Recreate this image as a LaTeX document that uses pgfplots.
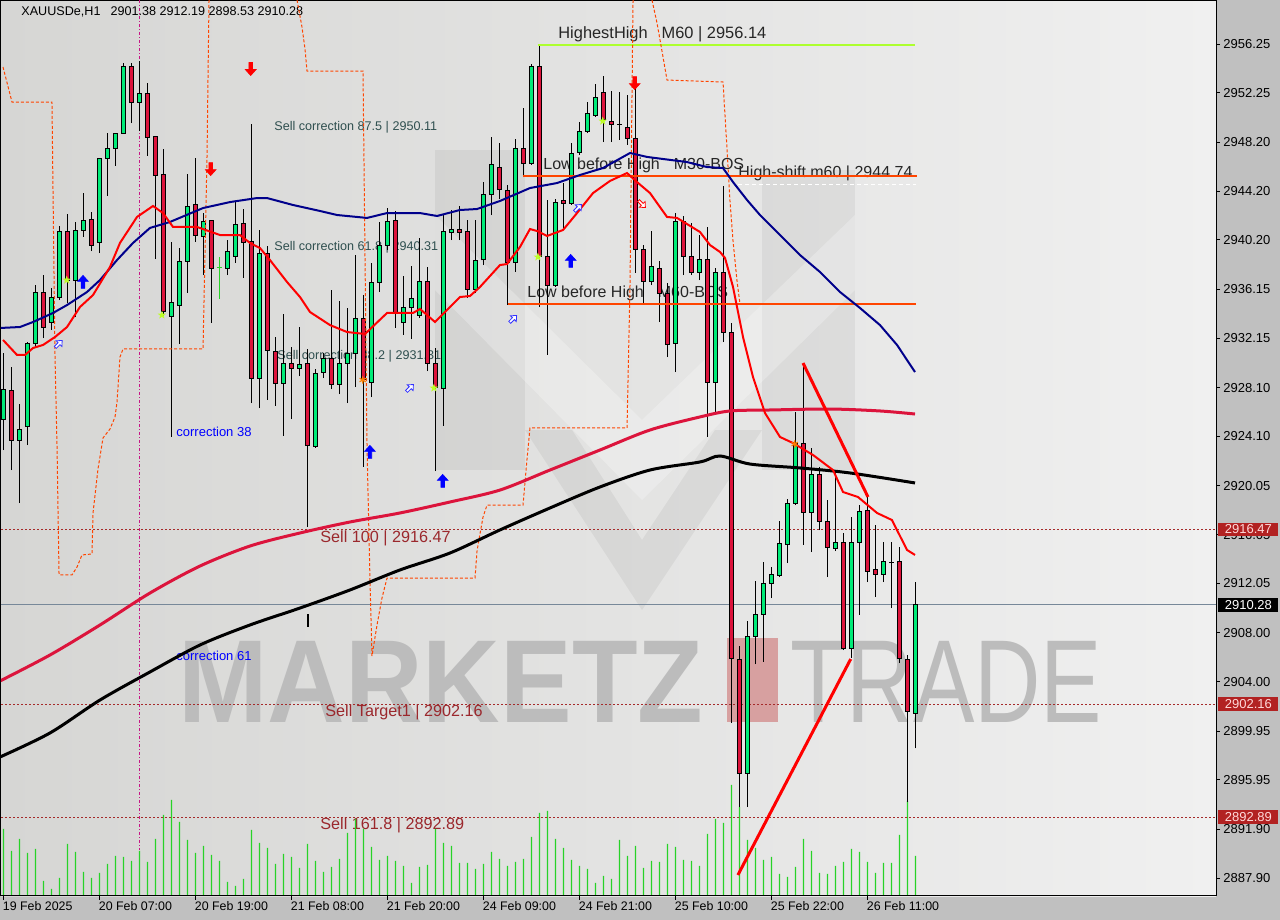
\documentclass[border=0pt]{standalone}
\usepackage{fontspec}
\setmainfont{Liberation Sans}
\usepackage{pgfplots}
\usepackage{pgfplotstable}
\pgfplotsset{compat=1.18}

\definecolor{bull}{RGB}{0,235,120}
\definecolor{bear}{RGB}{220,20,60}
\definecolor{panel}{RGB}{192,192,192}
\definecolor{bgl}{RGB}{214,214,212}
\definecolor{bgr}{RGB}{240,240,240}
\definecolor{ored}{RGB}{255,69,0}
\definecolor{lvl}{RGB}{165,42,42}
\definecolor{lvltext}{RGB}{155,40,45}
\definecolor{boxred}{RGB}{178,34,34}
\definecolor{ygreen}{RGB}{173,255,47}
\definecolor{magline}{RGB}{199,21,133}
\definecolor{navyma}{RGB}{0,0,139}
\definecolor{crim}{RGB}{220,20,60}
\definecolor{slate}{RGB}{47,79,79}
\definecolor{volg}{RGB}{40,210,40}
\definecolor{wm}{RGB}{188,188,188}
\definecolor{wmpink}{RGB}{215,160,160}
\definecolor{bidline}{RGB}{119,136,153}

% filled arrow, pointing up
\pgfdeclareplotmark{arr}{%
  \pgfpathmoveto{\pgfqpoint{0pt}{3.3pt}}%
  \pgfpathlineto{\pgfqpoint{2.7pt}{0.3pt}}%
  \pgfpathlineto{\pgfqpoint{0.9pt}{0.3pt}}%
  \pgfpathlineto{\pgfqpoint{0.9pt}{-3.2pt}}%
  \pgfpathlineto{\pgfqpoint{-0.9pt}{-3.2pt}}%
  \pgfpathlineto{\pgfqpoint{-0.9pt}{0.3pt}}%
  \pgfpathlineto{\pgfqpoint{-2.7pt}{0.3pt}}%
  \pgfpathclose\pgfusepathqfillstroke}
% filled five point star
\pgfdeclareplotmark{fstar}{%
  \pgfpathmoveto{\pgfpointpolar{90}{2.2pt}}%
  \pgfpathlineto{\pgfpointpolar{126}{0.9pt}}%
  \pgfpathlineto{\pgfpointpolar{162}{2.2pt}}%
  \pgfpathlineto{\pgfpointpolar{198}{0.9pt}}%
  \pgfpathlineto{\pgfpointpolar{234}{2.2pt}}%
  \pgfpathlineto{\pgfpointpolar{270}{0.9pt}}%
  \pgfpathlineto{\pgfpointpolar{306}{2.2pt}}%
  \pgfpathlineto{\pgfpointpolar{342}{0.9pt}}%
  \pgfpathlineto{\pgfpointpolar{18}{2.2pt}}%
  \pgfpathlineto{\pgfpointpolar{54}{0.9pt}}%
  \pgfpathclose\pgfusepathqfill}

\pgfplotsset{
  box/.style={scale only axis, width=607.5pt, height=447.5pt,
    at={(0.5pt,12pt)}, anchor=south west},
  pix/.style={box, xmin=1, xmax=1216, ymin=1, ymax=896, y dir=reverse,
    hide axis, clip=false},
  wick/.style={black, line width=0.5pt},
  bullbody/.style={fill=bull, draw=black, line width=0.5pt},
  bearbody/.style={fill=bear, draw=black, line width=0.5pt},
  lvlline/.style={lvl, line width=0.5pt, dash pattern=on 1pt off 1pt},
  zz/.style={ored, line width=0.5pt, dash pattern=on 1.5pt off 1pt},
}

% bar, open, high, low, close (H1)
\pgfplotstableread{
i o h l c
0 2925.52 2930.93 2922.98 2927.98
1 2927.82 2929.78 2921.34 2923.80
2 2923.80 2926.75 2918.63 2924.70
3 2924.87 2931.80 2923.39 2931.75
4 2931.75 2936.50 2931.34 2935.85
5 2935.85 2937.32 2932.16 2932.98
6 2933.39 2936.26 2932.82 2935.44
7 2935.44 2941.34 2935.27 2940.85
8 2940.85 2942.32 2935.03 2936.91
9 2936.91 2941.67 2933.88 2940.93
10 2941.01 2944.04 2940.44 2941.83
11 2941.91 2942.49 2939.29 2939.78
12 2939.95 2946.90 2939.12 2946.83
13 2946.83 2948.96 2943.80 2947.73
14 2947.73 2949.00 2946.26 2948.96
15 2948.96 2954.70 2948.90 2954.45
16 2954.45 2954.70 2949.78 2951.50
17 2951.42 2954.86 2949.12 2952.16
18 2952.16 2953.06 2947.08 2948.63
19 2948.71 2948.75 2938.63 2945.44
20 2945.60 2947.65 2933.88 2934.37
21 2933.96 2940.03 2924.05 2935.03
22 2934.86 2939.53 2931.67 2938.47
23 2938.47 2945.60 2935.85 2942.90
24 2943.06 2946.91 2940.03 2940.52
25 2940.44 2942.40 2937.32 2941.67
26 2941.75 2941.83 2933.39 2937.89
27 2937.90 2938.80 2935.36 2937.90
28 2937.89 2940.19 2937.32 2939.21
29 2938.80 2943.30 2938.31 2941.50
30 2941.58 2942.73 2937.08 2939.95
31 2940.03 2949.70 2926.83 2928.88
32 2928.80 2941.01 2926.42 2939.12
33 2939.12 2939.70 2927.08 2931.17
34 2931.09 2932.24 2926.59 2928.47
35 2928.47 2934.13 2924.13 2930.11
36 2930.11 2931.42 2925.52 2929.70
37 2929.70 2933.06 2929.04 2929.95
38 2930.03 2931.26 2916.67 2923.31
39 2923.23 2929.62 2923.15 2929.29
40 2929.37 2930.93 2928.88 2930.52
41 2930.52 2936.09 2927.98 2928.39
42 2928.39 2935.19 2927.57 2930.03
43 2930.11 2934.62 2926.83 2930.93
44 2930.93 2938.96 2928.14 2933.72
45 2933.72 2935.68 2921.59 2928.72
46 2928.55 2938.31 2927.32 2936.67
47 2936.67 2941.67 2935.93 2939.70
48 2939.70 2942.81 2939.37 2941.67
49 2941.75 2942.57 2932.98 2934.21
50 2933.47 2937.24 2932.41 2934.70
51 2934.70 2938.06 2932.08 2935.36
52 2934.04 2940.36 2933.80 2936.83
53 2936.83 2937.98 2929.45 2930.03
54 2930.11 2931.34 2921.26 2928.14
55 2928.06 2942.24 2924.95 2940.85
56 2940.77 2942.65 2940.19 2941.09
57 2941.09 2942.98 2940.19 2940.77
58 2940.85 2941.83 2935.44 2936.17
59 2936.17 2941.83 2935.85 2938.55
60 2938.63 2944.94 2938.14 2943.88
61 2943.88 2948.63 2942.24 2946.34
62 2946.17 2948.14 2943.55 2944.29
63 2944.21 2944.70 2934.86 2938.31
64 2938.31 2948.47 2937.57 2947.73
65 2947.73 2951.01 2945.35 2946.50
66 2946.50 2954.61 2946.34 2954.45
67 2954.37 2956.14 2934.70 2938.80
68 2938.80 2943.47 2930.77 2936.50
69 2936.50 2943.55 2936.34 2943.30
70 2943.39 2944.86 2941.01 2943.22
71 2943.22 2948.14 2943.06 2947.32
72 2947.40 2949.86 2947.16 2949.12
73 2949.12 2951.50 2948.96 2950.52
74 2950.43 2952.98 2950.27 2951.83
75 2952.32 2953.63 2948.22 2950.03
76 2949.94 2952.40 2948.22 2949.62
77 2949.62 2952.32 2948.40 2949.62
78 2949.45 2952.07 2947.98 2948.55
79 2948.55 2953.06 2937.49 2939.45
80 2939.45 2939.78 2935.03 2936.83
81 2936.75 2940.93 2936.50 2937.98
82 2937.89 2938.47 2933.47 2935.77
83 2935.77 2936.67 2930.60 2931.59
84 2931.67 2942.40 2929.37 2941.67
85 2941.67 2942.16 2937.32 2938.88
86 2938.80 2941.58 2937.32 2937.49
87 2937.49 2940.60 2936.91 2938.63
88 2938.63 2941.26 2924.05 2928.55
89 2928.55 2937.89 2926.10 2937.49
90 2937.49 2944.62 2931.83 2932.57
91 2932.57 2933.39 2900.61 2905.93
92 2905.85 2906.92 2893.72 2896.43
93 2896.43 2908.97 2893.72 2907.66
94 2907.66 2912.25 2905.44 2909.54
95 2909.46 2913.80 2905.61 2912.08
96 2912.08 2913.39 2910.85 2912.74
97 2912.66 2917.16 2912.57 2915.28
98 2915.20 2918.97 2913.72 2918.56
99 2918.56 2926.10 2918.47 2923.55
100 2923.55 2930.11 2915.20 2917.90
101 2917.90 2923.15 2914.62 2921.01
102 2921.01 2921.59 2916.42 2917.16
103 2917.16 2918.88 2912.57 2914.95
104 2914.87 2921.18 2914.70 2915.44
105 2915.36 2916.18 2906.59 2906.75
106 2906.75 2917.49 2905.93 2915.44
107 2915.44 2918.47 2909.46 2917.98
108 2918.06 2919.13 2912.16 2913.06
109 2913.15 2916.83 2910.93 2912.74
110 2912.74 2915.44 2912.16 2913.88
111 2913.80 2915.44 2910.03 2913.80
112 2913.88 2915.03 2905.52 2905.93
113 2905.85 2906.18 2894.13 2901.59
114 2901.38 2912.19 2898.53 2910.28
}\candles

% tick volume, in pixel height of the bar
\pgfplotstableread{
i v
0 67
1 45
2 57
3 43
4 47
5 15
6 7
7 18
8 52
9 44
10 24
11 18
12 23
13 32
14 40
15 39
16 35
17 45
18 34
19 57
20 81
21 96
22 74
23 56
24 43
25 50
26 41
27 35
28 14
29 10
30 17
31 66
32 53
33 48
34 32
35 42
36 39
37 28
38 52
39 35
40 24
41 29
42 37
43 63
44 77
45 67
46 49
47 36
48 40
49 35
50 30
51 13
52 29
53 31
54 67
55 53
56 50
57 33
58 33
59 27
60 32
61 44
62 37
63 30
64 34
65 37
66 59
67 83
68 85
69 57
70 48
71 36
72 30
73 27
74 13
75 20
76 17
77 56
78 40
79 50
80 28
81 35
82 34
83 52
84 49
85 36
86 35
87 30
88 62
89 77
90 73
91 111
92 89
93 56
94 48
95 36
96 39
97 22
98 19
99 29
100 57
101 45
102 23
103 22
104 30
105 34
106 47
107 44
108 34
109 23
110 33
111 33
112 61
113 95
114 40
}\vols

\begin{document}
\begin{tikzpicture}
\fill[panel] (0,0) rectangle (640pt,460pt);

% background, watermark and text objects (pixel grid of the chart window)
\begin{axis}[pix]
\shade[left color=bgl, right color=bgr] (axis cs:1,1) rectangle (axis cs:1216,896);
\fill[black, opacity=0.05] (axis cs:435,150) rectangle (axis cs:525,470);
\fill[black, opacity=0.05] (axis cs:762,170) rectangle (axis cs:855,470);
\fill[black, opacity=0.05] (axis cs:525,430) -- (axis cs:642,610) -- (axis cs:762,430)
  -- (axis cs:715,430) -- (axis cs:642,540) -- (axis cs:572,430) -- cycle;
\fill[white, opacity=0.25] (axis cs:435,215) -- (axis cs:642,420) -- (axis cs:855,215)
  -- (axis cs:855,290) -- (axis cs:642,500) -- (axis cs:435,290) -- cycle;
\node[anchor=base west, inner sep=0, text=wm,
  font=\fontsize{59}{60}\selectfont\bfseries] at (axis cs:178,722) {\scalebox{0.91}[1]{MARKETZ}};
\fill[wmpink] (axis cs:727,638) rectangle (axis cs:778,722);
\node[anchor=base west, inner sep=0, text=wm,
  font=\fontsize{59}{60}\selectfont] at (axis cs:790,722) {\scalebox{0.78}[1]{TRADE}};

\node[anchor=west, inner sep=0, font=\fontsize{6.3}{7}\selectfont] at (axis cs:21,12)
  {XAUUSDe,H1\hspace{5pt}2901.38 2912.19 2898.53 2910.28};
\node[anchor=west, inner sep=0, text=black!85, font=\fontsize{8.2}{9}\selectfont] at (axis cs:558,34)
  {HighestHigh\hspace{7pt}M60 | 2956.14};
\node[anchor=west, inner sep=0, text=black!85, font=\fontsize{8}{9}\selectfont] at (axis cs:543,165)
  {Low before High\hspace{7pt}M30-BOS};
\node[anchor=west, inner sep=0, text=black!85, font=\fontsize{8}{9}\selectfont] at (axis cs:738,173)
  {High-shift m60 | 2944.74};
\node[anchor=west, inner sep=0, text=black!85, font=\fontsize{8}{9}\selectfont] at (axis cs:527,293)
  {Low before High\hspace{7pt}M60-BOS};
\node[anchor=west, inner sep=0, text=slate, font=\fontsize{6.3}{7}\selectfont] at (axis cs:274,127)
  {Sell correction 87.5 | 2950.11};
\node[anchor=west, inner sep=0, text=slate, font=\fontsize{6.3}{7}\selectfont] at (axis cs:274,247)
  {Sell correction 61.8 | 2940.31};
\node[anchor=west, inner sep=0, text=slate, font=\fontsize{6.3}{7}\selectfont] at (axis cs:277,356)
  {Sell correction 38.2 | 2931.31};
\node[anchor=west, inner sep=0, text=blue, font=\fontsize{6.5}{7}\selectfont] at (axis cs:176,432)
  {correction 38};
\node[anchor=west, inner sep=0, text=blue, font=\fontsize{6.5}{7}\selectfont] at (axis cs:176,656)
  {correction 61};
\node[anchor=west, inner sep=0, text=lvltext, font=\fontsize{8.1}{9}\selectfont] at (axis cs:320,538)
  {Sell 100 | 2916.47};
\node[anchor=west, inner sep=0, text=lvltext, font=\fontsize{8.1}{9}\selectfont] at (axis cs:325,712)
  {Sell Target1 | 2902.16};
\node[anchor=west, inner sep=0, text=lvltext, font=\fontsize{8.1}{9}\selectfont] at (axis cs:320,825)
  {Sell 161.8 | 2892.89};
\end{axis}

% tick volume
\begin{axis}[box, hide axis, xmin=-0.3125, xmax=151.5625, ymin=0, ymax=895]
\addplot[ybar, bar width=0.6pt, fill=volg, draw=none] table[x=i, y=v] {\vols};
\end{axis}

% price chart
\begin{axis}[box,
  xmin=-0.3125, xmax=151.5625, ymin=2886.43, ymax=2959.78,
  clip mode=individual,
  axis line style={black, line width=0.5pt},
  tick style={black, line width=0.5pt},
  tick align=outside, major tick length=2pt,
  xtick pos=left, ytick pos=right, yticklabel pos=right,
  xtick={0,12,24,36,48,60,72,84,96,108},
  xticklabels={19 Feb 2025,20 Feb 07:00,20 Feb 19:00,21 Feb 08:00,21 Feb 20:00,24 Feb 09:00,24 Feb 21:00,25 Feb 10:00,25 Feb 22:00,26 Feb 11:00},
  xticklabel style={anchor=north west, inner sep=0.5pt, xshift=-1pt, font=\fontsize{6.2}{7}\selectfont},
  ytick={2887.90,2891.90,2895.95,2899.95,2904.00,2908.00,2912.05,2916.05,2920.05,2924.10,2928.10,2932.15,2936.15,2940.20,2944.20,2948.20,2952.25,2956.25},
  yticklabels={2887.90,2891.90,2895.95,2899.95,2904.00,2908.00,2912.05,2916.05,2920.05,2924.10,2928.10,2932.15,2936.15,2940.20,2944.20,2948.20,2952.25,2956.25},
  yticklabel style={anchor=west, inner sep=0pt, xshift=1.5pt, font=\fontsize{6.5}{7}\selectfont},
]
% price levels
\addplot[lvlline] coordinates {(-0.3125,2916.47) (151.5625,2916.47)};
\addplot[lvlline] coordinates {(-0.3125,2902.16) (151.5625,2902.16)};
\addplot[lvlline] coordinates {(-0.3125,2892.89) (151.5625,2892.89)};
\addplot[bidline, line width=0.5pt] coordinates {(-0.3125,2910.28) (151.5625,2910.28)};
\addplot[magline, line width=0.5pt, dash pattern=on 1.5pt off 1pt on 0.5pt off 1pt]
  coordinates {(17,2959.86) (17,2890.2)};

% candles
\pgfplotsforeachungrouped \k in {0,...,114}{%
  \pgfplotstablegetelem{\k}{o}\of\candles \let\vo\pgfplotsretval
  \pgfplotstablegetelem{\k}{h}\of\candles \let\vh\pgfplotsretval
  \pgfplotstablegetelem{\k}{l}\of\candles \let\vl\pgfplotsretval
  \pgfplotstablegetelem{\k}{c}\of\candles \let\vc\pgfplotsretval
  \pgfmathsetmacro\xa{\k-0.3}%
  \pgfmathsetmacro\xb{\k+0.3}%
  \ifdim\vc pt<\vo pt\def\bodystyle{bearbody}\else\def\bodystyle{bullbody}\fi
  \edef\candlecmd{%
    \noexpand\addplot[wick] coordinates {(\k,\vl) (\k,\vh)};%
    \noexpand\addplot[\bodystyle] coordinates {(\xa,\vo) (\xb,\vo) (\xb,\vc) (\xa,\vc) (\xa,\vo)};%
  }\candlecmd
}
\addplot[volg, line width=0.5pt] coordinates {(27,2935.36) (27,2938.80)};
\addplot[volg, line width=0.5pt] coordinates {(26.7,2937.90) (27.3,2937.90)};
\addplot[black, line width=1pt] coordinates {(38.06,2909.54) (38.06,2908.48)};

% structure levels
\addplot[ygreen, line width=1pt] coordinates {(66.8,2956.14) (113.9,2956.14)};
\addplot[ored, line width=1pt] coordinates {(64.9,2945.40) (114.2,2945.40)};
\addplot[ored, line width=1pt] coordinates {(63.0,2934.93) (114.1,2934.93)};
\addplot[white, line width=0.5pt, dash pattern=on 2pt off 1.5pt] coordinates {(91.8,2944.74) (114.1,2944.74)};

% zigzag envelope (dashed)
\addplot[zz] coordinates {(-0.06,2954.37) (1.06,2951.50) (6.06,2951.50) (6.19,2944.12) (6.44,2930.60)
  (6.69,2923.31) (6.94,2912.82) (7.06,2912.74) (8.56,2912.74) (9.19,2913.39) (9.81,2914.38)
  (11.06,2914.46) (11.19,2917.82) (11.81,2921.42) (12.44,2923.97) (13.31,2924.70) (13.94,2925.69)
  (14.19,2926.92) (14.56,2930.60) (14.94,2931.26) (24.94,2931.26) (25.44,2947.08) (25.69,2959.86)};
\addplot[zz] coordinates {(36.69,2959.86) (37.31,2957.65) (37.69,2955.84) (37.94,2954.04) (44.94,2954.04)
  (45.44,2923.31) (45.56,2919.62) (45.81,2912.33) (46.06,2906.10) (46.69,2908.64) (47.31,2910.85)
  (47.94,2912.49) (58.94,2912.49) (59.19,2914.70) (59.56,2916.10) (59.94,2917.49) (60.44,2918.47)
  (64.94,2918.47) (65.44,2922.24) (65.81,2924.79) (77.94,2924.79) (78.31,2936.34) (78.69,2959.86)};
\addplot[zz] coordinates {(81.06,2959.86) (81.69,2957.97) (82.44,2955.19) (82.94,2953.30) (89.94,2953.14)
  (90.44,2947.65) (90.81,2943.39) (91.19,2940.11) (91.69,2936.83) (92.06,2934.95)};

% moving averages
\addplot[crim, line width=1.5pt, smooth, tension=0.5] coordinates {(-0.44,2904.05) (5.81,2906.18) (12.06,2908.64) (18.31,2911.26)
  (24.56,2913.47) (30.81,2915.11) (37.06,2916.18) (43.31,2917.08) (49.56,2917.82) (55.81,2918.72)
  (62.06,2919.70) (68.31,2921.34) (74.56,2922.98) (80.81,2924.62) (87.06,2925.69) (90.81,2926.18)
  (95.81,2926.26) (103.31,2926.34) (109.56,2926.18) (113.94,2925.93)};
\addplot[black, line width=1.5pt, smooth, tension=0.5] coordinates {(-0.44,2897.82) (5.81,2899.79) (12.06,2902.49) (18.31,2904.79)
  (24.56,2907.00) (30.81,2908.64) (37.06,2910.03) (43.31,2911.51) (49.56,2913.15) (55.81,2914.54)
  (62.06,2916.43) (68.31,2918.23) (74.56,2919.95) (80.81,2921.34) (87.06,2922.00) (89.56,2922.49)
  (93.31,2921.83) (99.56,2921.51) (105.81,2921.10) (113.94,2920.28)};
\addplot[navyma, line width=1pt] coordinates {(-0.44,2932.98) (2.06,2933.06) (3.69,2933.47) (6.19,2934.21)
  (7.94,2934.86) (10.44,2935.93) (12.06,2936.91) (14.19,2938.55) (16.19,2939.95) (18.31,2941.18)
  (20.81,2941.67) (24.94,2942.81) (28.31,2943.30) (31.69,2943.63) (32.94,2943.63) (36.19,2943.06)
  (39.56,2942.57) (41.69,2942.24) (45.44,2942.00) (47.94,2942.40) (52.06,2942.40) (54.19,2942.16)
  (57.06,2942.65) (59.19,2942.73) (62.06,2943.39) (65.81,2944.45) (69.19,2944.86) (72.06,2945.52)
  (74.94,2946.09) (78.31,2947.32) (80.44,2947.00) (82.44,2946.83) (85.44,2946.58) (87.94,2946.17)
  (89.94,2946.09) (91.19,2944.94) (92.94,2943.47) (94.56,2942.24) (97.06,2940.60) (99.56,2938.96)
  (102.06,2937.57) (104.56,2935.93) (107.06,2934.62) (109.56,2933.22) (111.69,2931.59) (113.94,2929.37)};
\addplot[red, line width=1pt] coordinates {(-0.06,2932.00) (1.69,2930.77) (2.69,2930.77) (3.69,2931.34)
  (4.94,2931.59) (6.44,2932.24) (7.94,2933.06) (9.56,2934.70) (11.19,2935.68) (13.31,2937.98)
  (14.56,2939.95) (16.69,2942.08) (18.69,2942.98) (19.94,2942.40) (21.19,2941.26) (24.19,2941.26)
  (27.06,2940.60) (29.56,2940.60) (30.81,2939.95) (32.06,2939.53) (33.31,2938.55) (35.44,2936.75)
  (37.06,2935.52) (38.31,2934.29) (40.81,2933.22) (42.94,2932.65) (45.19,2932.49) (47.94,2934.21)
  (51.19,2934.21) (52.06,2934.54) (53.94,2933.47) (57.06,2935.52) (58.31,2935.60) (59.56,2936.34)
  (62.06,2938.14) (62.94,2938.22) (64.56,2939.62) (65.81,2941.09) (66.69,2940.93) (67.94,2940.52)
  (69.94,2941.01) (71.69,2942.40) (73.69,2944.04) (75.81,2945.03) (77.94,2945.68) (79.19,2944.94)
  (80.81,2944.04) (82.94,2942.08) (84.19,2942.00) (87.06,2940.85) (88.31,2939.78) (89.56,2939.21)
  (90.19,2938.72) (91.19,2936.34) (92.44,2932.24) (93.69,2928.96) (95.19,2926.01) (97.06,2924.05)
  (98.69,2923.55) (101.19,2922.57) (103.69,2921.34) (104.94,2919.54) (106.81,2919.13) (109.19,2917.82)
  (111.06,2917.24) (111.81,2916.26) (112.94,2914.79) (113.94,2914.38)};

% trend lines
\addplot[red, line width=1.5pt] coordinates {(99.94,2930.11) (108.06,2919.13)};
\addplot[red, line width=1.5pt] coordinates {(91.8,2888.15) (105.9,2905.85)};

% signals
\addplot[only marks, mark=arr, mark options={fill=blue, draw=blue, line width=0.3pt}]
  coordinates {(9.94,2936.75) (45.8,2922.82) (54.9,2920.44) (70.9,2938.47)};
\addplot[only marks, mark=arr, mark options={fill=red, draw=red, line width=0.3pt, rotate=180}]
  coordinates {(30.9,2954.21) (25.9,2946.01) (78.9,2953.06)};
\addplot[only marks, mark=arr, mark options={fill=white, draw=blue!80, line width=0.4pt, scale=0.75, rotate=-45}]
  coordinates {(6.9,2931.67) (50.8,2928.06) (63.7,2933.72) (71.8,2942.81)};
\addplot[only marks, mark=arr, mark options={fill=white, draw=red, line width=0.4pt, scale=0.75, rotate=-135}]
  coordinates {(79.8,2943.14)};
\addplot[only marks, mark=fstar, mark options={fill=ygreen!80!yellow}]
  coordinates {(7.9,2936.91) (19.8,2934.04) (53.8,2928.06) (66.8,2938.80) (74.9,2949.94)};
\addplot[only marks, mark=asterisk, mark size=1.8pt, mark options={draw=orange, line width=0.6pt}]
  coordinates {(44.9,2928.72) (98.9,2923.47)};

\coordinate (b1) at (axis cs:151.5625,2916.47);
\coordinate (b2) at (axis cs:151.5625,2910.28);
\coordinate (b3) at (axis cs:151.5625,2902.16);
\coordinate (b4) at (axis cs:151.5625,2892.89);
\end{axis}

\tikzset{pricebox/.style={anchor=west, inner sep=0pt, minimum width=30pt, minimum height=6.8pt,
  font=\fontsize{6.5}{7}\selectfont}}
\node[pricebox, fill=boxred, text=red!15] at ([xshift=1pt]b1) {2916.47};
\node[pricebox, fill=black, text=white] at ([xshift=1pt]b2) {2910.28};
\node[pricebox, fill=boxred, text=red!15] at ([xshift=1pt]b3) {2902.16};
\node[pricebox, fill=boxred, text=red!15] at ([xshift=1pt]b4) {2892.89};

\pgfresetboundingbox
\path[use as bounding box] (0,0) rectangle (640pt,460pt);
\end{tikzpicture}
\end{document}
